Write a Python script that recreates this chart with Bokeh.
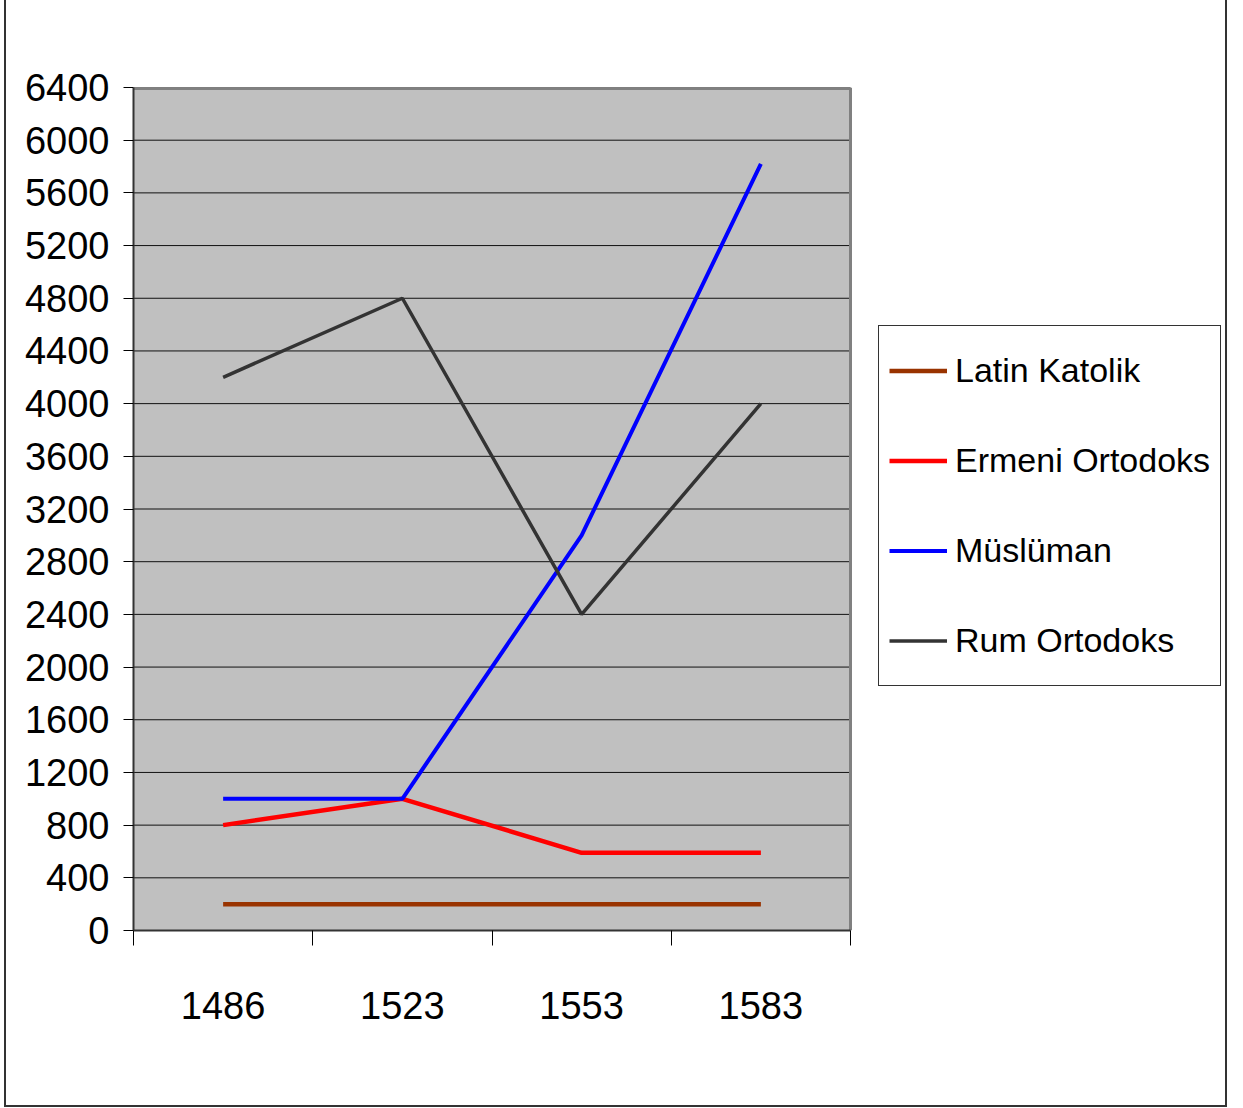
from bokeh.plotting import figure
from bokeh.models import FixedTicker, Range1d, Legend, LegendItem
from bokeh.embed import file_html
from bokeh.resources import INLINE

years = ["1486", "1523", "1553", "1583"]
latin_katolik = [200, 200, 200, 200]
ermeni_ortodoks = [800, 1000, 590, 590]
musluman = [1000, 1000, 3000, 5820]
rum_ortodoks = [4200, 4800, 2400, 4000]
y_ticks = list(range(0, 6401, 400))

series = [
    ("Latin Katolik", latin_katolik, "#993300", 4.5),
    ("Ermeni Ortodoks", ermeni_ortodoks, "#FF0000", 4.5),
    ("Müslüman", musluman, "#0000FF", 4),
    ("Rum Ortodoks", rum_ortodoks, "#333333", 3.5),
]

FONT = "Liberation Sans"

n = len(years)
xs = [i + 0.5 for i in range(n)]
bounds = list(range(n + 1))
y_max = y_ticks[-1]

W, H = 1223, 1107
ML, MR, MT, MB = 127, 3, 87, 177
frame_w = W - ML - MR
plot_w = 717  # pixel width of the gray plotting area
x_end = n * frame_w / plot_w

p = figure(width=W, height=H, output_backend="svg", toolbar_location=None,
           x_range=Range1d(0, x_end), y_range=Range1d(0, y_max),
           min_border_left=ML, min_border_top=MT, min_border_right=MR,
           min_border_bottom=MB)
p.styles = {"border-left": "2px solid #333", "border-right": "2px solid #333",
            "border-bottom": "2px solid #333", "margin-left": "4px"}

p.background_fill_color = "white"
p.border_fill_color = "white"
p.outline_line_color = None

# gray plotting area
p.quad(left=[0], right=[n], bottom=[0], top=[y_max],
       fill_color="#C0C0C0", line_color=None)
# horizontal gridlines
p.segment(x0=[0] * len(y_ticks), y0=y_ticks, x1=[n] * len(y_ticks), y1=y_ticks,
          line_color="#111111", line_width=1)
# area frame (top and right edges)
p.line([0, n], [y_max, y_max], line_color="#808080", line_width=5)
p.line([n, n], [0, y_max], line_color="#808080", line_width=3)

items = []
for name, vals, col, w in series:
    r = p.line(xs, vals, line_color=col, line_width=w)
    items.append(LegendItem(label=name, renderers=[r]))

# x axis
p.xaxis.bounds = (0, n)
p.xaxis.ticker = FixedTicker(ticks=xs, minor_ticks=bounds)
p.xaxis.major_label_overrides = {x: y for x, y in zip(xs, years)}
p.xaxis.major_tick_out = 0
p.xaxis.major_tick_in = 0
p.xaxis.minor_tick_out = 15
p.xaxis.minor_tick_in = 0
p.xaxis.minor_tick_line_color = "black"
p.xaxis.minor_tick_line_width = 1
p.xaxis.axis_line_color = "#333333"
p.xaxis.axis_line_width = 2
p.xaxis.major_label_text_font = FONT
p.xaxis.major_label_text_font_size = "38px"
p.xaxis.major_label_text_color = "black"
p.xaxis.major_label_standoff = 46

# y axis
p.yaxis.ticker = FixedTicker(ticks=y_ticks)
p.yaxis.major_tick_out = 10
p.yaxis.major_tick_in = 0
p.yaxis.major_tick_line_color = "black"
p.yaxis.minor_tick_line_color = None
p.yaxis.axis_line_color = "#333333"
p.yaxis.axis_line_width = 2
p.yaxis.major_label_text_font = FONT
p.yaxis.major_label_text_font_size = "38px"
p.yaxis.major_label_text_color = "black"
p.yaxis.major_label_standoff = 14

p.xgrid.grid_line_color = None
p.ygrid.grid_line_color = None

legend = Legend(items=items, location=(745, 244), orientation="vertical")
legend.border_line_color = "#333333"
legend.border_line_width = 1
legend.border_line_alpha = 1
legend.background_fill_color = "white"
legend.background_fill_alpha = 1
legend.padding = 10
legend.margin = 0
legend.spacing = 21
legend.glyph_width = 58
legend.glyph_height = 69
legend.label_height = 69
legend.label_standoff = 8
legend.label_text_font = FONT
legend.label_text_font_size = "34px"
legend.label_text_color = "black"
p.add_layout(legend, "center")

open("out.html", "w").write(file_html(p, INLINE))
